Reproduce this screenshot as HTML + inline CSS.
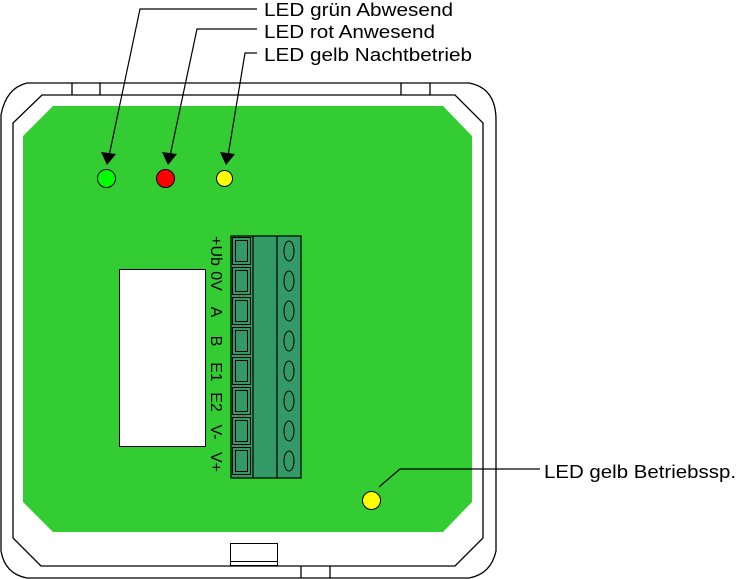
<!DOCTYPE html>
<html><head><style>html,body{margin:0;padding:0;background:#fff}svg{display:block}</style></head><body>
<svg width="737" height="579" viewBox="0 0 737 579" xmlns="http://www.w3.org/2000/svg" font-family="Liberation Sans, sans-serif">
<g fill="none" stroke="#000" stroke-width="1.3">
<path d="M27,83 H469 Q496,88 496,120 V551 Q491,574 469,578 H27 Q5,574 1,551 V115 Q6,88 27,83 Z"/>
<path d="M42,95 H455 L483,123 V538 L455,566 H41 L13,538 V123 Z"/>
<line x1="72" y1="83" x2="72" y2="95"/><line x1="100" y1="83" x2="100" y2="95"/>
<line x1="401" y1="83" x2="401" y2="95"/><line x1="430" y1="83" x2="430" y2="95"/>
<line x1="301" y1="566" x2="301" y2="578"/><line x1="330" y1="566" x2="330" y2="578"/>
</g>
<polygon points="53,106 443,106 472,136 472,502 443,532 53,532 23,502 23,136" fill="#33cc33"/>
<rect x="230.5" y="543.5" width="47" height="22" fill="#fff" stroke="#000"/>
<line x1="230" y1="561.5" x2="278" y2="561.5" stroke="#000"/>
<rect x="119.5" y="269.5" width="86" height="177" fill="#fff" stroke="#000"/>
<g stroke="#000" stroke-width="1.2">
<rect x="231" y="236" width="70" height="242" fill="#339966"/>
<line x1="253" y1="236" x2="253" y2="478"/><line x1="277" y1="236" x2="277" y2="478"/>
</g>
<g fill="none" stroke="#000" stroke-width="1">
<rect x="232.5" y="237.5" width="18" height="27"/><rect x="235.5" y="240.5" width="12" height="21"/>
<rect x="232.5" y="267.5" width="18" height="27"/><rect x="235.5" y="270.5" width="12" height="21"/>
<rect x="232.5" y="297.5" width="18" height="27"/><rect x="235.5" y="300.5" width="12" height="21"/>
<rect x="232.5" y="327.5" width="18" height="27"/><rect x="235.5" y="330.5" width="12" height="21"/>
<rect x="232.5" y="357.5" width="18" height="27"/><rect x="235.5" y="360.5" width="12" height="21"/>
<rect x="232.5" y="387.5" width="18" height="27"/><rect x="235.5" y="390.5" width="12" height="21"/>
<rect x="232.5" y="417.5" width="18" height="27"/><rect x="235.5" y="420.5" width="12" height="21"/>
<rect x="232.5" y="447.5" width="18" height="27"/><rect x="235.5" y="450.5" width="12" height="21"/>
<ellipse cx="289" cy="251" rx="5" ry="10"/><ellipse cx="289" cy="281" rx="5" ry="10"/>
<ellipse cx="289" cy="311" rx="5" ry="10"/><ellipse cx="289" cy="341" rx="5" ry="10"/>
<ellipse cx="289" cy="371" rx="5" ry="10"/><ellipse cx="289" cy="401" rx="5" ry="10"/>
<ellipse cx="289" cy="431" rx="5" ry="10"/><ellipse cx="289" cy="461" rx="5" ry="10"/>
</g>
<g font-size="16" text-anchor="middle" fill="#000">
<text transform="translate(211,251) rotate(90)">+Ub</text>
<text transform="translate(211,281) rotate(90)">0V</text>
<text transform="translate(211,312) rotate(90)">A</text>
<text transform="translate(211,341) rotate(90)">B</text>
<text transform="translate(211,372) rotate(90)">E1</text>
<text transform="translate(211,402) rotate(90)">E2</text>
<text transform="translate(211,432) rotate(90)">V-</text>
<text transform="translate(211,462) rotate(90)">V+</text>
</g>
<g stroke="#000" stroke-width="1">
<circle cx="106.5" cy="178.5" r="9" fill="#00ff00"/>
<circle cx="165.5" cy="178.5" r="9" fill="#ff0000"/>
<circle cx="224.5" cy="178.5" r="8" fill="#ffff00"/>
<circle cx="371.5" cy="500.5" r="9" fill="#ffff00"/>
</g>
<g stroke="#000" stroke-width="1.2" fill="none">
<polyline points="257,9 140,9 109,156"/>
<polyline points="257,29 197,29 170,156"/>
<polyline points="257,53 245,53 228,156"/>
<polyline points="540,469 400,469 379,487"/>
</g>
<g fill="#000">
<polygon points="107,165 101,152 116,154"/>
<polygon points="168,165 162,152 177,154"/>
<polygon points="226,165 220,152 235,154"/>
</g>
<g font-size="18" fill="#000">
<text x="264" y="16" textLength="189" lengthAdjust="spacingAndGlyphs">LED grün Abwesend</text>
<text x="264" y="38" textLength="171" lengthAdjust="spacingAndGlyphs">LED rot Anwesend</text>
<text x="264" y="61" textLength="208" lengthAdjust="spacingAndGlyphs">LED gelb Nachtbetrieb</text>
<text x="544" y="478" textLength="192" lengthAdjust="spacingAndGlyphs">LED gelb Betriebssp.</text>
</g>
</svg>
</body></html>
